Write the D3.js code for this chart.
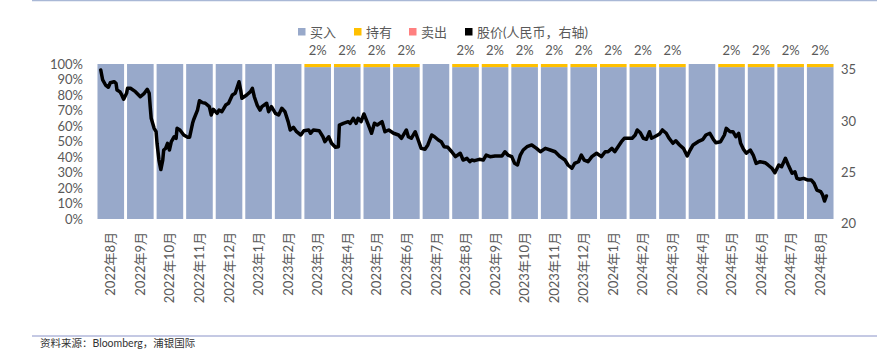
<!DOCTYPE html>
<html><head><meta charset="utf-8">
<script src="https://cdn.jsdelivr.net/npm/d3@7/dist/d3.min.js"></script>
<style>
html,body{margin:0;padding:0;background:#fff;overflow:hidden;}
svg{display:block;}
text{font-family:Lato,"Noto Sans CJK SC",sans-serif;fill:#595959;}
</style></head>
<body>
<script>
const months = ["2022年8月","2022年9月","2022年10月","2022年11月","2022年12月","2023年1月","2023年2月","2023年3月","2023年4月","2023年5月","2023年6月","2023年7月","2023年8月","2023年9月","2023年10月","2023年11月","2023年12月","2024年1月","2024年2月","2024年3月","2024年4月","2024年5月","2024年6月","2024年7月","2024年8月"];
const buyPct  = [100,100,100,100,100,100,100,98,98,98,98,100,98,98,98,98,98,98,98,98,100,98,98,98,98];
const holdPct = [0,0,0,0,0,0,0,2,2,2,2,0,2,2,2,2,2,2,2,2,0,2,2,2,2];
const sellPct = [0,0,0,0,0,0,0,0,0,0,0,0,0,0,0,0,0,0,0,0,0,0,0,0,0];
const leftTicks = [0,10,20,30,40,50,60,70,80,90,100];
const rightTicks = [20,25,30,35];
const legendLabels = ["买入","持有","卖出","股价(人民币，右轴)"];
const sourceText = "资料来源：Bloomberg，浦银国际";

const priceDates = ["2022-08-06","2022-08-08","2022-08-11","2022-08-14","2022-08-16","2022-08-20","2022-08-22","2022-08-23","2022-08-26","2022-08-28","2022-08-30",
"2022-09-02","2022-09-03","2022-09-06","2022-09-11","2022-09-16","2022-09-20","2022-09-23","2022-09-25","2022-09-26","2022-09-27","2022-09-30",
"2022-10-02","2022-10-03","2022-10-05","2022-10-07","2022-10-09","2022-10-10","2022-10-12","2022-10-14","2022-10-16","2022-10-18","2022-10-21","2022-10-23","2022-10-24","2022-10-27","2022-10-31",
"2022-11-04","2022-11-06","2022-11-09","2022-11-10","2022-11-14","2022-11-16","2022-11-19","2022-11-22","2022-11-26","2022-11-28","2022-11-30",
"2022-12-04","2022-12-06","2022-12-09","2022-12-13","2022-12-16","2022-12-20","2022-12-23","2022-12-27","2022-12-29","2022-12-30",
"2023-01-04","2023-01-08","2023-01-10","2023-01-12","2023-01-15","2023-01-18","2023-01-20","2023-01-25","2023-01-27","2023-01-30",
"2023-02-03","2023-02-06","2023-02-09","2023-02-12","2023-02-15","2023-02-17","2023-02-20","2023-02-23","2023-02-27",
"2023-03-02","2023-03-07","2023-03-09","2023-03-12","2023-03-18","2023-03-22","2023-03-24","2023-03-28","2023-03-31",
"2023-04-04","2023-04-07","2023-04-08","2023-04-12","2023-04-17","2023-04-19","2023-04-22","2023-04-25","2023-04-27","2023-04-30",
"2023-05-03","2023-05-07","2023-05-11","2023-05-14","2023-05-17","2023-05-22","2023-05-25","2023-05-29",
"2023-06-03","2023-06-08","2023-06-11","2023-06-16","2023-06-18","2023-06-21","2023-06-25","2023-06-28",
"2023-07-01","2023-07-05","2023-07-08","2023-07-12","2023-07-15","2023-07-19","2023-07-22","2023-07-25","2023-07-29",
"2023-08-02","2023-08-06","2023-08-11","2023-08-14","2023-08-18","2023-08-21","2023-08-23","2023-08-26","2023-08-31",
"2023-09-04","2023-09-07","2023-09-11","2023-09-16","2023-09-23","2023-09-26","2023-09-29",
"2023-10-03","2023-10-06","2023-10-09","2023-10-12","2023-10-15","2023-10-19","2023-10-24","2023-10-29",
"2023-11-02","2023-11-07","2023-11-12","2023-11-17","2023-11-22","2023-11-27","2023-11-30",
"2023-12-04","2023-12-07","2023-12-11","2023-12-14","2023-12-17","2023-12-21","2023-12-25","2023-12-30",
"2024-01-04","2024-01-08","2024-01-11","2024-01-15","2024-01-18","2024-01-22","2024-01-25","2024-01-28",
"2024-02-01","2024-02-05","2024-02-08","2024-02-10","2024-02-13","2024-02-16","2024-02-19","2024-02-22","2024-02-24","2024-02-27",
"2024-03-03","2024-03-06","2024-03-10","2024-03-13","2024-03-17","2024-03-20","2024-03-24","2024-03-28",
"2024-04-01","2024-04-04","2024-04-07","2024-04-12","2024-04-17","2024-04-20","2024-04-24","2024-04-28","2024-04-30",
"2024-05-05","2024-05-09","2024-05-11","2024-05-15","2024-05-18","2024-05-21","2024-05-24","2024-05-26","2024-05-29",
"2024-06-01","2024-06-05","2024-06-08","2024-06-11","2024-06-15","2024-06-20","2024-06-23","2024-06-27","2024-06-30",
"2024-07-04","2024-07-07","2024-07-11","2024-07-14","2024-07-18","2024-07-21","2024-07-23","2024-07-26","2024-07-30",
"2024-08-03","2024-08-07","2024-08-10","2024-08-13","2024-08-17","2024-08-19","2024-08-21","2024-08-23"];
const priceValues = [34.95,33.98,33.49,33.27,33.71,33.81,33.66,33.00,32.84,32.52,32.10,
32.68,33.17,33.17,32.84,32.35,32.68,33.07,32.68,31.38,30.25,29.27,
28.94,27.81,26.18,25.25,26.18,27.16,27.32,27.81,27.16,27.97,28.45,28.30,29.27,29.11,28.62,
28.40,28.40,29.76,30.08,31.05,31.96,31.77,31.71,31.38,30.57,31.12,
30.73,31.05,30.89,31.54,31.71,32.52,32.68,33.81,32.84,32.19,
32.52,32.84,33.17,32.35,31.54,31.05,31.38,31.71,30.89,31.38,
30.73,30.57,31.22,30.89,29.92,29.11,29.37,28.94,28.62,
29.04,29.11,28.79,29.11,29.04,28.45,27.97,28.45,27.81,
27.42,27.48,29.59,29.76,29.92,29.76,30.25,29.76,30.25,29.92,
30.67,29.76,28.79,29.76,29.59,29.92,28.94,29.11,
28.79,28.62,28.30,29.11,28.45,28.30,28.94,28.13,
27.32,27.23,27.65,28.62,28.45,28.13,27.97,27.48,27.42,
26.99,26.51,26.84,26.18,26.35,26.02,26.18,26.12,26.25,
26.18,26.67,26.51,26.57,26.57,26.99,26.67,
26.51,25.86,25.70,26.67,27.16,27.48,27.65,27.32,
26.99,27.32,27.16,26.99,26.51,26.18,25.70,
25.38,25.86,26.02,26.67,26.18,26.02,26.51,26.84,
26.51,26.99,26.99,27.32,26.99,27.55,27.97,28.30,
28.30,28.30,28.62,29.11,28.84,28.30,28.20,28.94,28.30,28.45,
28.72,29.11,28.79,28.30,27.81,28.06,27.65,27.32,
26.57,27.16,27.65,27.97,28.20,28.62,28.79,28.13,27.87,
27.97,28.62,29.27,28.94,28.94,28.45,28.79,27.81,27.23,
26.84,27.16,26.67,25.86,26.02,25.92,25.70,25.38,24.95,
25.70,25.53,26.35,25.70,24.89,25.04,24.40,24.31,24.40,
24.24,24.24,23.92,23.26,23.10,22.78,22.19,22.68];

const W = 877, H = 350;
const colors = {buy:"#98A9CA", hold:"#FFC000", sell:"#FF8080", price:"#000000"};

const svg = d3.select("body").append("svg").attr("width", W).attr("height", H);

const plotL = 96, plotR = 835;
const x = d3.scaleBand().domain(months).range([plotL, plotR]).paddingInner(0.1).paddingOuter(0.05);
const xPos = d3.scaleLinear().domain([0, months.length]).range([plotL, plotR]);
const yL = d3.scaleLinear().domain([0, 100]).range([219, 64]);
const yR = d3.scaleLinear().domain([20, 35]).range([223.5, 69.5]);

// top & bottom rules
svg.append("line").attr("x1", 32).attr("x2", W).attr("y1", 0.5).attr("y2", 0.5).attr("stroke", "#A9B8D6").attr("stroke-width", 1.5);
svg.append("line").attr("x1", 32).attr("x2", W).attr("y1", 336).attr("y2", 336).attr("stroke", "#8A93C8").attr("stroke-width", 1);

// stacked bars
const rows = months.map((m, i) => ({m, buy: buyPct[i], hold: holdPct[i], sell: sellPct[i]}));
const stack = d3.stack().keys(["buy","hold","sell"])(rows);
svg.append("g").selectAll("g").data(stack).join("g")
  .attr("fill", d => colors[d.key])
  .selectAll("rect").data(d => d).join("rect")
  .attr("x", d => x(d.data.m))
  .attr("width", x.bandwidth())
  .attr("y", d => yL(d[1]))
  .attr("height", d => yL(d[0]) - yL(d[1]));

// hold labels
svg.append("g").selectAll("text").data(rows.filter(r => r.hold > 0)).join("text")
  .attr("x", d => x(d.m) + x.bandwidth()/2)
  .attr("y", 55)
  .attr("text-anchor", "middle")
  .style("font-size", "13px")
  .text(d => d.hold + "%");

// price line
const parse = d3.timeParse("%Y-%m-%d");
function datePos(s){
  const d = parse(s);
  const idx = (d.getFullYear() - 2022) * 12 + d.getMonth() - 7;
  const dim = new Date(d.getFullYear(), d.getMonth() + 1, 0).getDate();
  return idx + (d.getDate() - 1) / dim;
}
const pts = priceDates.map((s, i) => [datePos(s), priceValues[i]]);
svg.append("path").datum(pts)
  .attr("fill", "none").attr("stroke", colors.price).attr("stroke-width", 3.5)
  .attr("stroke-linejoin", "round").attr("stroke-linecap", "round")
  .attr("d", d3.line().x(d => xPos(d[0])).y(d => yR(d[1])));

// left axis
const gl = svg.append("g").attr("transform", "translate(83,0)")
  .call(d3.axisLeft(yL).tickValues(leftTicks).tickSize(0).tickPadding(0).tickFormat(d => d + "%"));
gl.select(".domain").remove();
gl.selectAll("text").style("font-size", "13px").style("fill", "#595959").style("font-family", "Lato,sans-serif");

// right axis
const gr = svg.append("g").attr("transform", "translate(841,0)")
  .call(d3.axisRight(yR).tickValues(rightTicks).tickSize(0).tickPadding(0));
gr.select(".domain").remove();
gr.selectAll("text").style("font-size", "13px").style("fill", "#595959").style("font-family", "Lato,sans-serif");

// x axis labels (rotated)
const gx = svg.append("g").attr("transform", "translate(0,232)")
  .call(d3.axisBottom(x).tickSize(0).tickPadding(0));
gx.select(".domain").remove();
gx.selectAll("text")
  .attr("transform", "rotate(-90)")
  .attr("x", 0).attr("y", 0).attr("dy", "0.35em")
  .attr("text-anchor", "end")
  .style("font-size", "13px").style("fill", "#595959")
  .style("font-family", "Lato,'Noto Sans CJK SC',sans-serif");

// legend
const legendX = [298, 354, 409, 465];
const legendColors = [colors.buy, colors.hold, colors.sell, colors.price];
const lg = svg.append("g");
legendLabels.forEach((t, i) => {
  lg.append("rect").attr("x", legendX[i]).attr("y", 28).attr("width", 7.5).attr("height", 7.5).attr("fill", legendColors[i]);
  lg.append("text").attr("x", legendX[i] + 12).attr("y", 37).style("font-size", "13px").text(t);
});

// source
svg.append("text").attr("x", 40).attr("y", 347).style("font-size", "10.5px").style("fill", "#333").text(sourceText);
</script>
</body></html>
